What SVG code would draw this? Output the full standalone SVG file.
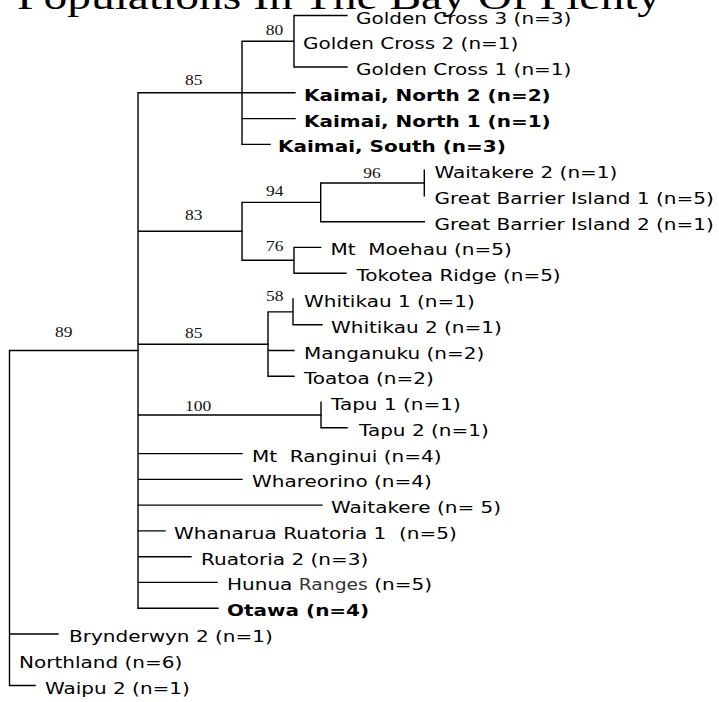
<svg xmlns="http://www.w3.org/2000/svg" width="719" height="702" viewBox="0 0 719 702">
<style>
.t{font-family:"DejaVu Sans",Verdana,sans-serif;font-size:16px;fill:#000;white-space:pre}
.b{font-weight:bold}
.r{font-size:15px;fill:#333}
.n{font-family:"Liberation Serif","Times New Roman",serif;font-size:14px;fill:#111}
.ti{font-family:"Liberation Serif","Times New Roman",serif;font-size:38px;fill:#000}
.e{stroke:#000;stroke-width:1.4;fill:none;stroke-linecap:square}
</style>
<rect width="719" height="702" fill="#fff"/>
<text class="ti" transform="translate(17,8.5) scale(1.25 1)">Populations In The Bay Of Plenty</text>

<g id="connectors">
<path class="e" d="M9.5 350.5V685.5M9.5 350.5H138M9.5 634H58M9.5 685.5H35"/>
<path class="e" d="M138 92.8V608.2M138 92.8H242M138 231.3H242M138 344.2H268M138 415H321M138 453.6H242M138 479.4H242M138 505.1H322M138 530.9H165M138 556.7H191M138 582.4H217M138 608.2H218"/>
<path class="e" d="M242 41.3V144.4M242 41.3H294M294 15.5V67M294 15.5H347M294 67H347M242 92.8H295M242 118.6H295M242 144.4H270"/>
<path class="e" d="M242 202.35V260.3M242 202.35H320.7M320.7 183V221.7M320.7 183H424.3M424.3 170.1V195.9M320.7 221.7H424.3M242 260.3H294M294 247.4V273.2M294 247.4H320.7M294 273.2H346"/>
<path class="e" d="M268 311.9V376.3M268 311.9H293M293 299V324.7M293 324.7H322M268 350.5H294M268 376.3H294"/>
<path class="e" d="M321 402.1V427.8M321 427.8H347"/>
</g>

<g id="support">
<text class="n" transform="translate(265.7,34.8) scale(1.25 1)">80</text>
<text class="n" transform="translate(185,85) scale(1.25 1)">85</text>
<text class="n" transform="translate(185,220) scale(1.25 1)">83</text>
<text class="n" transform="translate(266,195.5) scale(1.25 1)">94</text>
<text class="n" transform="translate(363.3,177.5) scale(1.25 1)">96</text>
<text class="n" transform="translate(266,251) scale(1.25 1)">76</text>
<text class="n" transform="translate(266,300.5) scale(1.25 1)">58</text>
<text class="n" transform="translate(185,337.5) scale(1.25 1)">85</text>
<text class="n" transform="translate(185,410.5) scale(1.25 1)">100</text>
<text class="n" transform="translate(55,336.5) scale(1.25 1)">89</text>
</g>

<g id="leaf-gc3"><text class="t" transform="translate(356,23.5) scale(1.25 1)">Golden Cross 3 (n=3)</text></g>
<g id="leaf-gc2"><text class="t" transform="translate(303,49.3) scale(1.25 1)">Golden Cross 2 (n=1)</text></g>
<g id="leaf-gc1"><text class="t" transform="translate(356,75) scale(1.25 1)">Golden Cross 1 (n=1)</text></g>
<g id="leaf-kn2"><text class="t b" transform="translate(304,100.8) scale(1.25 1)">Kaimai, North 2 (n=2)</text></g>
<g id="leaf-kn1"><text class="t b" transform="translate(304,126.6) scale(1.25 1)">Kaimai, North 1 (n=1)</text></g>
<g id="leaf-ks"><text class="t b" transform="translate(278,152.4) scale(1.25 1)">Kaimai, South (n=3)</text></g>
<g id="leaf-w2"><text class="t" transform="translate(434.5,178.1) scale(1.25 1)">Waitakere 2 (n=1)</text></g>
<g id="leaf-gbi1"><text class="t" transform="translate(434.5,203.9) scale(1.25 1)">Great Barrier Island 1 (n=5)</text></g>
<g id="leaf-gbi2"><text class="t" transform="translate(434.5,229.7) scale(1.25 1)">Great Barrier Island 2 (n=1)</text></g>
<g id="leaf-moehau"><text class="t" transform="translate(330.5,255.4) scale(1.25 1)">Mt  Moehau (n=5)</text></g>
<g id="leaf-tokotea"><text class="t" transform="translate(356.5,281.2) scale(1.25 1)">Tokotea Ridge (n=5)</text></g>
<g id="leaf-whitikau1"><text class="t" transform="translate(304,307) scale(1.25 1)">Whitikau 1 (n=1)</text></g>
<g id="leaf-whitikau2"><text class="t" transform="translate(331,332.7) scale(1.25 1)">Whitikau 2 (n=1)</text></g>
<g id="leaf-manganuku"><text class="t" transform="translate(304,358.5) scale(1.25 1)">Manganuku (n=2)</text></g>
<g id="leaf-toatoa"><text class="t" transform="translate(304,384.3) scale(1.25 1)">Toatoa (n=2)</text></g>
<g id="leaf-tapu1"><text class="t" transform="translate(331,410.1) scale(1.25 1)">Tapu 1 (n=1)</text></g>
<g id="leaf-tapu2"><text class="t" transform="translate(359,435.8) scale(1.25 1)">Tapu 2 (n=1)</text></g>
<g id="leaf-ranginui"><text class="t" transform="translate(252,461.6) scale(1.25 1)">Mt  Ranginui (n=4)</text></g>
<g id="leaf-whareorino"><text class="t" transform="translate(252,487.4) scale(1.25 1)">Whareorino (n=4)</text></g>
<g id="leaf-waitakere"><text class="t" transform="translate(331,513.1) scale(1.25 1)">Waitakere (n= 5)</text></g>
<g id="leaf-whanarua"><text class="t" transform="translate(174,538.9) scale(1.25 1)">Whanarua Ruatoria 1  (n=5)</text></g>
<g id="leaf-ruatoria2"><text class="t" transform="translate(201,564.7) scale(1.25 1)">Ruatoria 2 (n=3)</text></g>
<g id="leaf-hunua"><text class="t" transform="translate(227,590.4) scale(1.25 1)">Hunua <tspan class="r">Ranges</tspan> (n=5)</text></g>
<g id="leaf-otawa"><text class="t b" transform="translate(227,616.2) scale(1.25 1)">Otawa (n=4)</text></g>
<g id="leaf-brynderwyn"><text class="t" transform="translate(69,642) scale(1.25 1)">Brynderwyn 2 (n=1)</text></g>
<g id="leaf-northland"><text class="t" transform="translate(19,667.8) scale(1.25 1)">Northland (n=6)</text></g>
<g id="leaf-waipu"><text class="t" transform="translate(45,693.5) scale(1.25 1)">Waipu 2 (n=1)</text></g>
</svg>
